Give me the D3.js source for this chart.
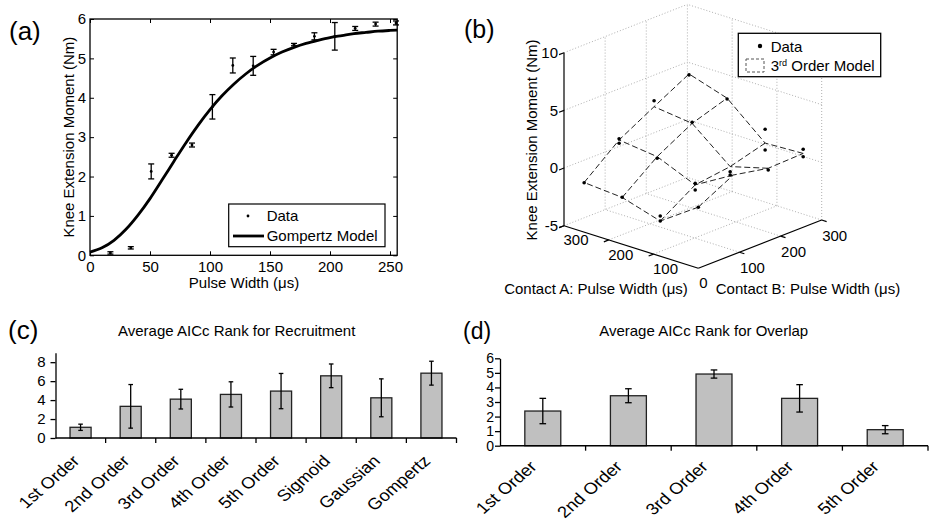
<!DOCTYPE html>
<html>
<head>
<meta charset="utf-8">
<script src="https://cdn.jsdelivr.net/npm/d3@7"></script>
<style>
  body { margin: 0; background: #fff; }
  svg { display: block; font-family: "Liberation Sans", Arial, sans-serif; }
</style>
</head>
<body>
<svg width="929" height="521"></svg>
<script>
// ---- (a) recruitment curve
var pulseA = [17, 34, 51, 68, 85, 102, 119, 136, 153, 170, 187, 204, 221, 238, 255];
var momentA = [0.06, 0.19, 2.13, 2.54, 2.80, 3.77, 4.82, 4.81, 5.16, 5.35, 5.56, 5.56, 5.76, 5.87, 5.90];
var errA = [0.03, 0.03, 0.19, 0.05, 0.05, 0.31, 0.19, 0.24, 0.07, 0.03, 0.09, 0.35, 0.05, 0.05, 0.05];
// gompertz model
var fitX = [0, 10, 20, 30, 40, 50, 60, 70, 80, 90, 100, 110, 120, 130, 140, 150, 160, 170, 180, 190, 200, 210, 220, 230, 240, 250, 256];
var fitY = [0.08, 0.19, 0.38, 0.66, 1.02, 1.44, 1.91, 2.39, 2.86, 3.30, 3.70, 4.05, 4.35, 4.61, 4.83, 5.01, 5.16, 5.28, 5.38, 5.46, 5.53, 5.58, 5.63, 5.66, 5.69, 5.71, 5.72];

// ---- (b) two-contact overlap surface
var gridPW = [0, 85, 170, 255];           // pulse widths on both contacts
var modelZ = [                            // rows: contact A, cols: contact B
  [0.3, 1.9, 1.3, 1.4],
  [-1.95, 0.0, 0.4, 1.25],
  [-0.95, 1.4, 3.1, 4.1],
  [-0.7, 1.8, 3.5, 5.15]
];
var ptA = [255, 255, 255, 255, 255, 170, 170, 170, 170, 85, 85, 85, 85, 85, 85, 85, 85, 0, 0, 0, 0];
var ptB = [0, 85, 85, 170, 255, 0, 85, 170, 255, 0, 0, 85, 85, 170, 170, 255, 255, 0, 170, 255, 255];
var ptZ = [-0.72, 1.91, 1.51, 4.02, 5.07, -0.93, 1.26, 3.2, 4.03, -1.51, -1.95, 0.13, -0.45, -0.05, -0.33, 2.45, 0.65, 0.29, 1.15, 1.76, 1.11];
var pwTicks = [0, 100, 200, 300];
var zTicks = [-5, 0, 5, 10];

// ---- (c) AICc rank, recruitment
var recModels = ["1st Order", "2nd Order", "3rd Order", "4th Order", "5th Order", "Sigmoid", "Gaussian", "Gompertz"];
var recRank = [1.13, 3.34, 4.1, 4.6, 4.95, 6.56, 4.24, 6.84];
var recErr = [0.33, 2.3, 1.04, 1.33, 1.86, 1.25, 2.0, 1.26];

// ---- (d) AICc rank, overlap
var ovModels = ["1st Order", "2nd Order", "3rd Order", "4th Order", "5th Order"];
var ovRank = [2.38, 3.43, 4.92, 3.25, 1.1];
var ovErr = [0.87, 0.48, 0.28, 0.94, 0.28];

var svg = d3.select("svg");
svg.append("rect").attr("width", 929).attr("height", 521).attr("fill", "#fff");

function panelTag(t, x, y, size) {
  svg.append("text").attr("x", x).attr("y", y).attr("font-size", size).text(t);
}

//=========================== (a)
var xa = d3.scaleLinear().domain([0, 256]).range([90, 397.2]);
var ya = d3.scaleLinear().domain([0, 6]).range([255.3, 19]);
var ga = svg.append("g");

ga.append("g").attr("transform", "translate(0," + ya(0) + ")")
    .call(d3.axisBottom(xa).tickValues([0, 50, 100, 150, 200, 250]).tickSize(-4).tickSizeOuter(0).tickPadding(6));
ga.append("g").attr("transform", "translate(0," + ya(6) + ")")
    .call(d3.axisTop(xa).tickValues([0, 50, 100, 150, 200, 250]).tickSize(-4).tickSizeOuter(0).tickFormat(""));
ga.append("g").attr("transform", "translate(" + xa(0) + ",0)")
    .call(d3.axisLeft(ya).ticks(6).tickSize(-4).tickSizeOuter(0).tickPadding(4));
ga.append("g").attr("transform", "translate(" + xa(256) + ",0)")
    .call(d3.axisRight(ya).ticks(6).tickSize(-4).tickSizeOuter(0).tickFormat(""));
ga.selectAll(".domain").remove();
ga.selectAll(".tick line").attr("stroke", "#000").attr("stroke-width", 1);
ga.selectAll(".tick text").attr("font-size", 15).attr("font-family", "Liberation Sans, Arial, sans-serif").attr("fill", "#000");
ga.append("rect")
    .attr("x", xa(0)).attr("y", ya(6))
    .attr("width", xa(256) - xa(0)).attr("height", ya(0) - ya(6))
    .attr("fill", "none").attr("stroke", "#000").attr("stroke-width", 1.3);

var fitLine = d3.line()
    .x(function(d, i) { return xa(fitX[i]); })
    .y(function(d) { return ya(d); })
    .curve(d3.curveMonotoneX);
ga.append("path").datum(fitY).attr("d", fitLine)
    .attr("fill", "none").attr("stroke", "#000").attr("stroke-width", 2.8);

var ebA = ga.append("g").selectAll("g").data(pulseA).enter().append("g");
ebA.append("line")
    .attr("x1", function(d) { return xa(d); }).attr("x2", function(d) { return xa(d); })
    .attr("y1", function(d, i) { return ya(momentA[i] - errA[i]); })
    .attr("y2", function(d, i) { return ya(momentA[i] + errA[i]); });
ebA.append("line")
    .attr("x1", function(d) { return xa(d) - 3; }).attr("x2", function(d) { return xa(d) + 3; })
    .attr("y1", function(d, i) { return ya(momentA[i] - errA[i]); })
    .attr("y2", function(d, i) { return ya(momentA[i] - errA[i]); });
ebA.append("line")
    .attr("x1", function(d) { return xa(d) - 3; }).attr("x2", function(d) { return xa(d) + 3; })
    .attr("y1", function(d, i) { return ya(momentA[i] + errA[i]); })
    .attr("y2", function(d, i) { return ya(momentA[i] + errA[i]); });
ebA.selectAll("line").attr("stroke", "#000").attr("stroke-width", 1.3);
ebA.append("circle")
    .attr("cx", function(d) { return xa(d); })
    .attr("cy", function(d, i) { return ya(momentA[i]); })
    .attr("r", 1.4).attr("fill", "#000");

// legend (a)
ga.append("rect").attr("x", 228.7).attr("y", 204).attr("width", 156.3).attr("height", 42.7)
    .attr("fill", "#fff").attr("stroke", "#000").attr("stroke-width", 1.2);
ga.append("circle").attr("cx", 248).attr("cy", 216).attr("r", 1.4).attr("fill", "#000");
ga.append("text").attr("x", 266.7).attr("y", 221).attr("font-size", 15).text("Data");
ga.append("line").attr("x1", 233).attr("x2", 264).attr("y1", 236).attr("y2", 236)
    .attr("stroke", "#000").attr("stroke-width", 2.8);
ga.append("text").attr("x", 266.7).attr("y", 241).attr("font-size", 15).text("Gompertz Model");

ga.append("text").attr("x", 244).attr("y", 288).attr("text-anchor", "middle")
    .attr("font-size", 15).text("Pulse Width (\u03bcs)");
ga.append("text").attr("transform", "translate(73.7," + ((ya(0) + ya(6)) / 2) + ") rotate(-90)")
    .attr("text-anchor", "middle").attr("font-size", 15).text("Knee Extension Moment (Nm)");
panelTag("(a)", 9, 40, 26);

//=========================== (b)
var frontX = 698.3, frontY = 268.3;
var aX = d3.scaleLinear().domain([0, 300]).range([0, -134.3]),
    aY = d3.scaleLinear().domain([0, 300]).range([0, -42.6]),
    bX = d3.scaleLinear().domain([0, 300]).range([0, 123.4]),
    bY = d3.scaleLinear().domain([0, 300]).range([0, -48.3]),
    zY = d3.scaleLinear().domain([-5, 10]).range([0, -173]);
function proj(a, b, z) {
  return [frontX + aX(a) + bX(b), frontY + aY(a) + bY(b) + zY(z)];
}
var gb = svg.append("g");
var seg = d3.line();

// dotted grid on floor and the two back walls
var grid = [];
pwTicks.slice(1).forEach(function(v) {
  grid.push([proj(v, 0, -5), proj(v, 300, -5)]);
  grid.push([proj(0, v, -5), proj(300, v, -5)]);
  grid.push([proj(300, v, -5), proj(300, v, 10)]);
});
pwTicks.slice(0, 3).forEach(function(v) {
  grid.push([proj(v, 300, -5), proj(v, 300, 10)]);
});
zTicks.slice(1).forEach(function(z) {
  grid.push([proj(300, 0, z), proj(300, 300, z)]);
  grid.push([proj(0, 300, z), proj(300, 300, z)]);
});
gb.append("g").selectAll("path").data(grid).enter().append("path")
    .attr("d", seg).attr("fill", "none")
    .attr("stroke", "#9a9a9a").attr("stroke-width", 0.8).attr("stroke-dasharray", "1,2");

// axes
var axes3 = [
  [proj(0, 0, -5), proj(300, 0, -5)],
  [proj(0, 0, -5), proj(0, 300, -5)],
  [proj(300, 0, -5), proj(300, 0, 10)]
];
pwTicks.slice(1).forEach(function(v) {
  var p = proj(v, 0, -5); axes3.push([p, proj(v, -12, -5)]);
  var q = proj(0, v, -5); axes3.push([q, proj(-11, v, -5)]);
});
zTicks.forEach(function(z) {
  var p = proj(300, 0, z); axes3.push([p, proj(300, -12, z)]);
});
gb.append("g").selectAll("path").data(axes3).enter().append("path")
    .attr("d", seg).attr("fill", "none").attr("stroke", "#000").attr("stroke-width", 1.2);

zTicks.forEach(function(z) {
  var p = proj(300, 0, z);
  gb.append("text").attr("x", p[0] - 6).attr("y", p[1]).attr("dy", "0.35em")
      .attr("text-anchor", "end").attr("font-size", 15).text(z);
});
pwTicks.forEach(function(v) {
  var p = proj(v, 0, -5);
  var dx = v === 0 ? 5 : 12;
  gb.append("text").attr("x", p[0] + dx).attr("y", p[1] + 14.5).attr("dy", "0.35em")
      .attr("text-anchor", "middle").attr("font-size", 15).text(v);
});
pwTicks.slice(1).forEach(function(v) {
  var p = proj(0, v, -5);
  gb.append("text").attr("x", p[0] + 13).attr("y", p[1] + 15.5).attr("dy", "0.35em")
      .attr("text-anchor", "middle").attr("font-size", 15).text(v);
});

// model mesh
var mesh = [];
gridPW.forEach(function(a, i) {
  mesh.push(gridPW.map(function(b, j) { return proj(a, b, modelZ[i][j]); }));
});
gridPW.forEach(function(b, j) {
  mesh.push(gridPW.map(function(a, i) { return proj(a, b, modelZ[i][j]); }));
});
gb.append("g").selectAll("path").data(mesh).enter().append("path")
    .attr("d", seg).attr("fill", "none")
    .attr("stroke", "#222").attr("stroke-width", 1).attr("stroke-dasharray", "6,3");

gb.append("g").selectAll("circle").data(ptZ).enter().append("circle")
    .attr("cx", function(d, i) { return proj(ptA[i], ptB[i], d)[0]; })
    .attr("cy", function(d, i) { return proj(ptA[i], ptB[i], d)[1]; })
    .attr("r", 1.8).attr("fill", "#000");

// legend (b)
gb.append("rect").attr("x", 738.3).attr("y", 33.3).attr("width", 142.4).attr("height", 43.4)
    .attr("fill", "#fff").attr("stroke", "#000").attr("stroke-width", 1.3);
gb.append("circle").attr("cx", 760).attr("cy", 46).attr("r", 2.2).attr("fill", "#000");
gb.append("text").attr("x", 770.7).attr("y", 51.5).attr("font-size", 15).text("Data");
gb.append("rect").attr("x", 746).attr("y", 59).attr("width", 18).attr("height", 13)
    .attr("fill", "none").attr("stroke", "#555").attr("stroke-width", 1).attr("stroke-dasharray", "3,2");
var lt = gb.append("text").attr("x", 770.7).attr("y", 70.5).attr("font-size", 15);
lt.append("tspan").text("3");
lt.append("tspan").attr("font-size", 9).attr("dy", -5).text("rd");
lt.append("tspan").attr("dy", 5).text(" Order Model");

gb.append("text").attr("x", 596).attr("y", 293.5).attr("text-anchor", "middle")
    .attr("font-size", 15).text("Contact A: Pulse Width (\u03bcs)");
gb.append("text").attr("x", 808).attr("y", 293.5).attr("text-anchor", "middle")
    .attr("font-size", 15).text("Contact B: Pulse Width (\u03bcs)");
gb.append("text").attr("transform", "translate(537,140) rotate(-90)")
    .attr("text-anchor", "middle").attr("font-size", 15).text("Knee Extension Moment (Nm)");
panelTag("(b)", 464, 38, 25);

//=========================== (c) and (d)
function barPanel(o) {
  var g = svg.append("g");
  var x = d3.scaleBand().domain(o.cats).range([o.x0, o.x1]);
  var y = d3.scaleLinear().domain([0, o.yMax]).range([o.yZero, o.yTop]);
  var bw = x.bandwidth() * 0.42;

  g.append("g").attr("transform", "translate(" + o.x0 + ",0)")
      .call(d3.axisLeft(y).tickValues(o.yTicks).tickFormat(d3.format("d"))
        .tickSize(5).tickSizeOuter(0).tickPadding(o.pad));
  g.selectAll(".tick text").attr("font-size", o.tickFont).attr("font-family", "Liberation Sans, Arial, sans-serif").attr("fill", "#000");
  g.selectAll(".domain, .tick line").attr("stroke", "#000").attr("stroke-width", 1.3);

  g.selectAll("rect.bar").data(o.vals).enter().append("rect").attr("class", "bar")
      .attr("x", function(d, i) { return x(o.cats[i]) + (x.bandwidth() - bw) / 2; })
      .attr("y", function(d) { return y(d); })
      .attr("width", bw)
      .attr("height", function(d) { return o.yZero - y(d); })
      .attr("fill", "#c0c0c0").attr("stroke", "#222").attr("stroke-width", 1.3);

  var eb = g.append("g").selectAll("g").data(o.vals).enter().append("g")
      .attr("transform", function(d, i) { return "translate(" + (x(o.cats[i]) + x.bandwidth() / 2) + ",0)"; });
  eb.append("line").attr("y1", function(d, i) { return y(d - o.errs[i]); }).attr("y2", function(d, i) { return y(d + o.errs[i]); });
  eb.append("line").attr("x1", -o.cap).attr("x2", o.cap)
      .attr("y1", function(d, i) { return y(d - o.errs[i]); }).attr("y2", function(d, i) { return y(d - o.errs[i]); });
  eb.append("line").attr("x1", -o.cap).attr("x2", o.cap)
      .attr("y1", function(d, i) { return y(d + o.errs[i]); }).attr("y2", function(d, i) { return y(d + o.errs[i]); });
  eb.selectAll("line").attr("stroke", "#000").attr("stroke-width", 1.3);

  // category axis, ticks between bars
  g.append("line").attr("x1", o.x0).attr("x2", o.x1).attr("y1", o.yZero).attr("y2", o.yZero)
      .attr("stroke", "#000").attr("stroke-width", 1.6);
  g.selectAll("line.ct").data(o.cats).enter().append("line").attr("class", "ct")
      .attr("x1", function(d) { return x(d) + x.bandwidth(); })
      .attr("x2", function(d) { return x(d) + x.bandwidth(); })
      .attr("y1", o.yZero).attr("y2", o.yZero + 5)
      .attr("stroke", "#000").attr("stroke-width", 1.3);
  g.selectAll("text.cat").data(o.cats).enter().append("text").attr("class", "cat")
      .attr("transform", function(d) {
        return "translate(" + (x(d) + x.bandwidth() / 2 + o.labDx) + "," + (o.yZero + o.labDy) +
          ") scale(1.15,1) rotate(-45)";
      })
      .attr("text-anchor", "end").attr("font-size", 16).text(function(d) { return d; });

  g.append("text").attr("x", o.titleX).attr("y", 336).attr("text-anchor", "middle")
      .attr("font-size", 15).text(o.title);
}

barPanel({ cats: recModels, vals: recRank, errs: recErr, x0: 55.5, x1: 456.5,
  yTop: 352.7, yZero: 438, yMax: 9, yTicks: [0, 2, 4, 6, 8], cap: 2.3, pad: 5, tickFont: 15,
  labDx: 0, labDy: 24, title: "Average AICc Rank for Recruitment", titleX: 236.7 });
barPanel({ cats: ovModels, vals: ovRank, errs: ovErr, x0: 500, x1: 928,
  yTop: 358.3, yZero: 445.7, yMax: 6, yTicks: [0, 1, 2, 3, 4, 5, 6], cap: 3.3, pad: 1, tickFont: 14,
  labDx: -5, labDy: 22, title: "Average AICc Rank for Overlap", titleX: 703.7 });
panelTag("(c)", 8, 339, 26);
panelTag("(d)", 463, 339, 23);
</script>
</body>
</html>
